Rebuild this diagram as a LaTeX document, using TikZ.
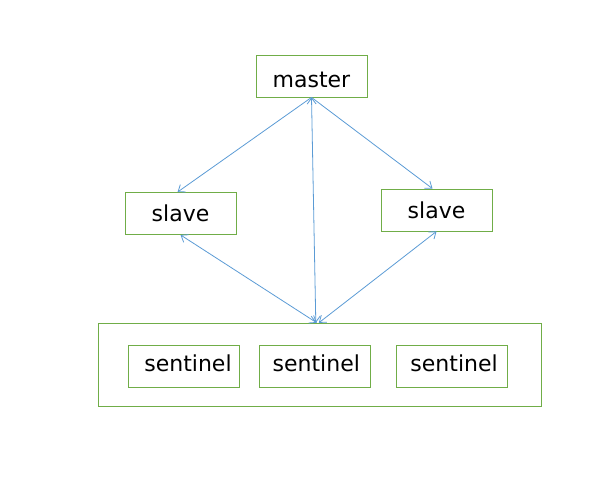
\documentclass[tikz,border=0pt]{standalone}
\usepackage{fontspec}
\setmainfont{DejaVu Sans}
\usepackage{tikz}
\usetikzlibrary{positioning,shapes,arrows.meta}
\definecolor{boxgreen}{RGB}{112,173,71}
\definecolor{linkblue}{RGB}{91,155,213}
\tikzstyle{srv}=[%
      rectangle, draw=boxgreen, line width=0.8pt, fill=none,
      minimum height=42pt, minimum width=111pt, inner sep=0pt, font=\fontsize{22}{26}\selectfont
]
\tikzstyle{grp}=[%
      rectangle, draw=boxgreen, line width=0.8pt, fill=none,
      minimum height=83pt, minimum width=443pt, inner sep=0pt
]
\tikzstyle{link}=[%
      draw=linkblue, line width=0.8pt
]
\tikzstyle{both}=[%
      {Straight Barb[length=6pt,width=9pt]}-{Straight Barb[length=6pt,width=9pt]}
]
\begin{document}
\begin{tikzpicture}[x=1pt, y=-1pt,
    -{Straight Barb[length=6pt,width=9pt]}
  ]
    \useasboundingbox (0,0) rectangle (609,499);
    \node[srv, text height=22pt, text depth=0pt] (master) at (311.5,76) {master};
    \node[srv]              (slaveL) at (180.5,213.5) {slave};
    \node[srv]              (slaveR) at (436.5,210)  {slave};
    \node[grp]              (group)  at (319.8,364.7) {};
    \node[srv, text height=10pt, text depth=0pt] (sent1) at (183.5,366.5) {\hspace{9pt}sentinel};
    \node[srv, text height=10pt, text depth=0pt] (sent2) at (314.8,366.5) {\hspace{3pt}sentinel};
    \node[srv, text height=10pt, text depth=0pt] (sent3) at (451.6,366.5) {\hspace{5pt}sentinel};

    \path (master.south) edge[link] ([xshift=-3pt]slaveL.north)
          (master.south) edge[link] ([xshift=-4pt]slaveR.north)
          (master.south) edge[link, both] ([xshift=-4pt]group.north)
          (slaveL.south) edge[link, both] ([xshift=-3pt]group.north)
          (slaveR.south) edge[link, both] ([xshift=-1pt]group.north)
    ;

  \end{tikzpicture}
\end{document}
